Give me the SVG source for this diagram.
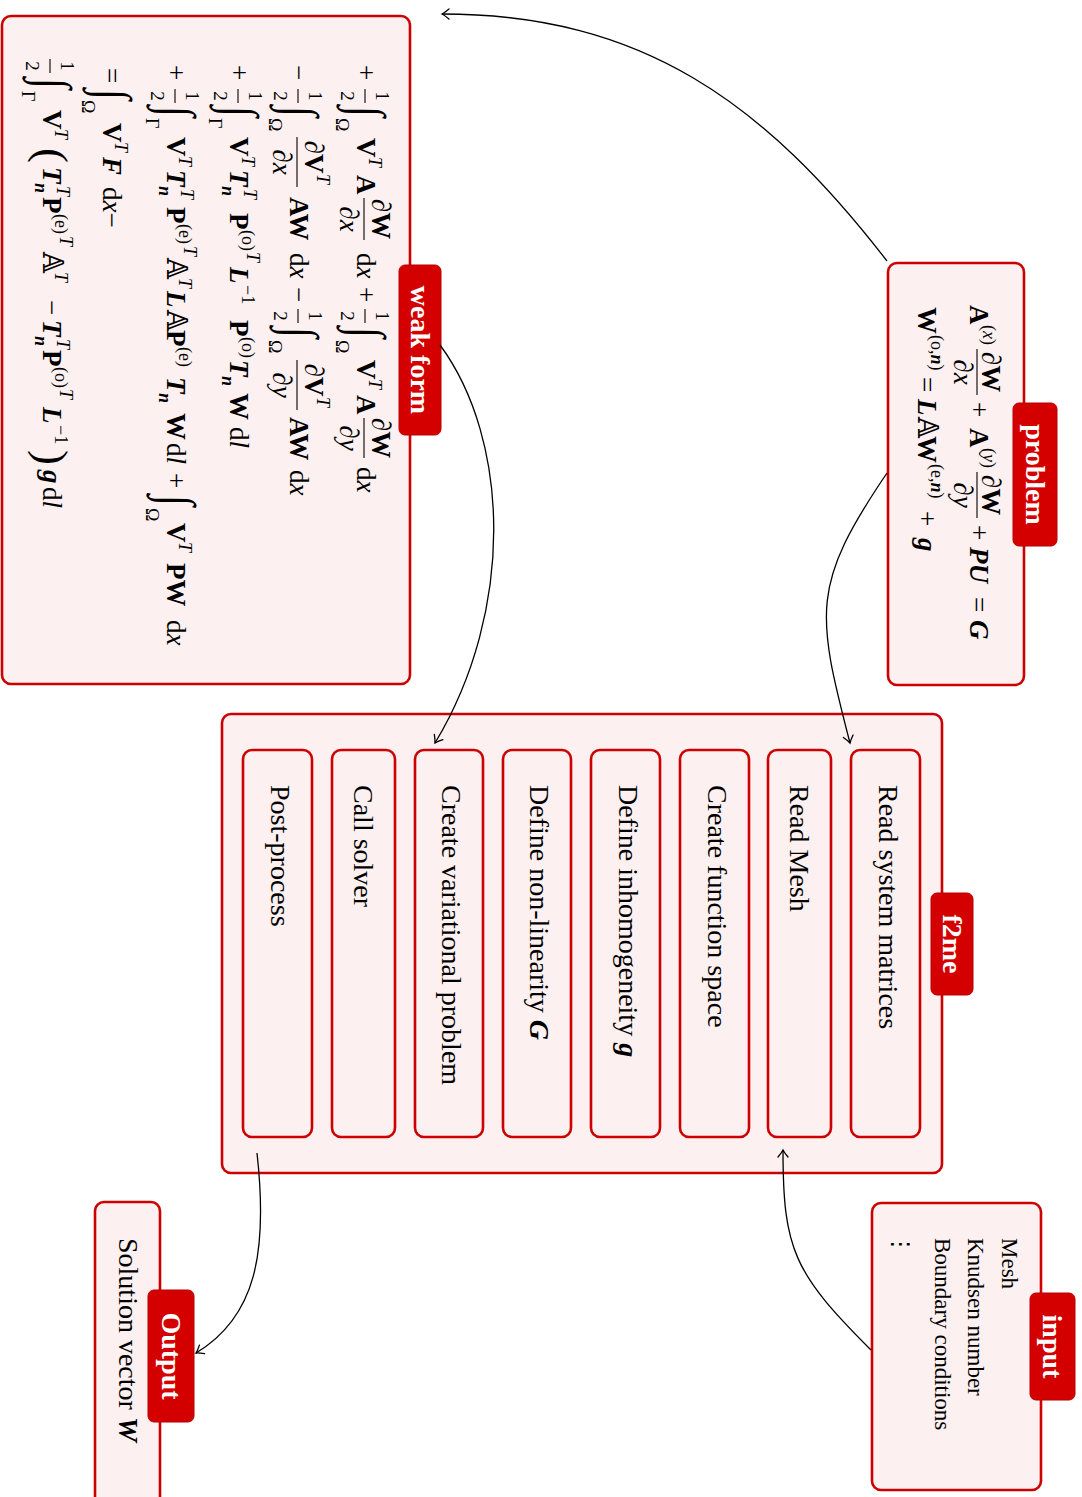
<svg xmlns="http://www.w3.org/2000/svg" width="1082" height="1497" viewBox="0 0 1082 1497">
<defs>
<style>
.box{fill:#fdf0f0;stroke:#cc0000;stroke-width:2.6}
.tagr{fill:#d40000;stroke:#b80000;stroke-width:1}
.tag{font-family:"Liberation Serif",serif;font-size:28px;font-weight:bold;fill:#fff;text-anchor:middle;dominant-baseline:central}
.lbl{font-family:"Liberation Serif",serif;font-size:28px;fill:#000}
.lst{font-family:"Liberation Serif",serif;font-size:23px;fill:#000}
.m{font-family:"Liberation Serif",serif;font-size:27px;fill:#000}
.sm{font-size:18px}
.fr{font-size:19px}
.ig{font-size:44px}
.pa{font-size:45px}
.b{font-weight:bold}
.i{font-style:italic}
.bi{font-weight:bold;font-style:italic}
.ds{font-family:"DejaVu Serif","DejaVu Sans",serif}
.c{text-anchor:middle}
.fb{stroke:#000;stroke-width:1.1}
.conn path{fill:none;stroke:#000;stroke-width:1.3;marker-end:url(#ah)}
</style>
<marker id="ah" viewBox="-9 -7 11 14" refX="0" refY="0" markerWidth="11" markerHeight="14" orient="auto" markerUnits="userSpaceOnUse">
<path d="M-7,-5 Q-2.5,-1.2 0,0 Q-2.5,1.2 -7,5" fill="none" stroke="#000" stroke-width="1.3" stroke-linecap="round"/>
</marker>
</defs>
<!-- whole layout is drawn landscape and turned a quarter turn clockwise -->
<g transform="translate(1082,0) rotate(90)">

<!-- weak form -->
<g id="weakform">
<rect class="box" x="16" y="672" width="668" height="408" rx="9"/>
<!-- line 1 -->
<text class="m" x="65" y="725">+</text>
<text class="m fr c" x="96" y="706">1</text><line class="fb" x1="89" x2="103" y1="717" y2="717"/><text class="m fr c" x="96" y="741">2</text>
<text class="m ig" transform="translate(106,732) scale(0.9,1.16)">∫</text><text class="m sm" x="118" y="746">Ω</text>
<text class="m b" x="138" y="725">V</text><text class="m sm i" x="157" y="713">T</text>
<text class="m b" x="175" y="725">A</text>
<text class="m c" x="219" y="710">∂<tspan class="b">W</tspan></text><line class="fb" x1="198" x2="240" y1="718" y2="718"/><text class="m c" x="219" y="742">∂<tspan class="i">x</tspan></text>
<text class="m" x="253" y="725">d<tspan class="i">x</tspan></text>
<text class="m" x="287" y="725">+</text>
<text class="m fr c" x="316" y="706">1</text><line class="fb" x1="309" x2="323" y1="717" y2="717"/><text class="m fr c" x="316" y="741">2</text>
<text class="m ig" transform="translate(327,732) scale(0.9,1.16)">∫</text><text class="m sm" x="340" y="746">Ω</text>
<text class="m b" x="360" y="725">V</text><text class="m sm i" x="379" y="713">T</text>
<text class="m b" x="395" y="725">A</text>
<text class="m c" x="438" y="710">∂<tspan class="b">W</tspan></text><line class="fb" x1="418" x2="458" y1="718" y2="718"/><text class="m c" x="438" y="742">∂<tspan class="i">y</tspan></text>
<text class="m" x="467" y="725">d<tspan class="i">x</tspan></text>
<!-- line 2 -->
<text class="m" x="65" y="792">−</text>
<text class="m fr c" x="96" y="773">1</text><line class="fb" x1="89" x2="103" y1="784" y2="784"/><text class="m fr c" x="96" y="808">2</text>
<text class="m ig" transform="translate(106,799) scale(0.9,1.16)">∫</text><text class="m sm" x="118" y="813">Ω</text>
<text class="m c" x="157" y="777">∂<tspan class="b">V</tspan></text><text class="m sm i" x="174" y="765">T</text><line class="fb" x1="137" x2="187" y1="785" y2="785"/><text class="m c" x="162" y="809">∂<tspan class="i">x</tspan></text>
<text class="m b" x="197" y="792">AW</text>
<text class="m" x="253" y="792">d<tspan class="i">x</tspan></text>
<text class="m" x="287" y="792">−</text>
<text class="m fr c" x="316" y="773">1</text><line class="fb" x1="309" x2="323" y1="784" y2="784"/><text class="m fr c" x="316" y="808">2</text>
<text class="m ig" transform="translate(327,799) scale(0.9,1.16)">∫</text><text class="m sm" x="340" y="813">Ω</text>
<text class="m c" x="380" y="777">∂<tspan class="b">V</tspan></text><text class="m sm i" x="397" y="765">T</text><line class="fb" x1="360" x2="410" y1="785" y2="785"/><text class="m c" x="385" y="809">∂<tspan class="i">y</tspan></text>
<text class="m b" x="417" y="792">AW</text>
<text class="m" x="470" y="792">d<tspan class="i">x</tspan></text>
<!-- line 3 -->
<text class="m" x="65" y="852">+</text>
<text class="m fr c" x="96" y="833">1</text><line class="fb" x1="89" x2="103" y1="844" y2="844"/><text class="m fr c" x="96" y="868">2</text>
<text class="m ig" transform="translate(106,859) scale(0.9,1.16)">∫</text><text class="m sm" x="118" y="873">Γ</text>
<text class="m b" x="137" y="852">V</text><text class="m sm i" x="156" y="840">T</text>
<text class="m bi" x="170" y="852">T</text><text class="m sm i" x="189" y="838">T</text><text class="m sm bi" x="186" y="860">n</text>
<text class="m b" x="213" y="852">P</text><text class="m sm" x="230" y="840">(o)</text><text class="m sm i" x="252" y="835">T</text>
<text class="m bi" x="267" y="852">L</text><text class="m sm" x="285" y="840">−1</text>
<text class="m b" x="320" y="852">P</text><text class="m sm" x="337" y="840">(o)</text>
<text class="m bi" x="360" y="852">T</text><text class="m sm bi" x="376" y="860">n</text>
<text class="m b" x="393" y="852">W</text>
<text class="m" x="427" y="852">d<tspan class="i">l</tspan></text>
<!-- line 4 -->
<text class="m" x="65" y="915">+</text>
<text class="m fr c" x="96" y="896">1</text><line class="fb" x1="89" x2="103" y1="907" y2="907"/><text class="m fr c" x="96" y="931">2</text>
<text class="m ig" transform="translate(106,922) scale(0.9,1.16)">∫</text><text class="m sm" x="118" y="936">Γ</text>
<text class="m b" x="137" y="915">V</text><text class="m sm i" x="156" y="903">T</text>
<text class="m bi" x="170" y="915">T</text><text class="m sm i" x="189" y="901">T</text><text class="m sm bi" x="186" y="923">n</text>
<text class="m b" x="207" y="915">P</text><text class="m sm" x="224" y="903">(e)</text><text class="m sm i" x="246" y="898">T</text>
<text class="m ds" x="258" y="915">𝔸</text><text class="m sm i" x="278" y="903">T</text>
<text class="m bi" x="291" y="915">L</text><text class="m ds" x="310" y="915">𝔸</text>
<text class="m b" x="330" y="915">P</text><text class="m sm" x="347" y="903">(e)</text>
<text class="m bi" x="377" y="915">T</text><text class="m sm bi" x="393" y="923">n</text>
<text class="m b" x="413" y="915">W</text>
<text class="m" x="443" y="915">d<tspan class="i">l</tspan></text>
<text class="m" x="473" y="915">+</text>
<text class="m ig" transform="translate(495,922) scale(0.9,1.16)">∫</text><text class="m sm" x="508" y="936">Ω</text>
<text class="m b" x="523" y="915">V</text><text class="m sm i" x="542" y="903">T</text>
<text class="m b" x="563" y="915">PW</text>
<text class="m" x="620" y="915">d<tspan class="i">x</tspan></text>
<!-- line 5 -->
<text class="m" x="68" y="979">=</text>
<text class="m ig" transform="translate(89,986) scale(0.9,1.16)">∫</text><text class="m sm" x="100" y="1000">Ω</text>
<text class="m b" x="123" y="979">V</text><text class="m sm i" x="142" y="967">T</text>
<text class="m bi" x="157" y="979">F</text>
<text class="m" x="187" y="979">d<tspan class="i">x</tspan>−</text>
<!-- line 6 -->
<text class="m fr c" x="66" y="1021">1</text><line class="fb" x1="59" x2="73" y1="1032" y2="1032"/><text class="m fr c" x="66" y="1056">2</text>
<text class="m ig" transform="translate(78,1046) scale(0.9,1.16)">∫</text><text class="m sm" x="91" y="1060">Γ</text>
<text class="m b" x="110" y="1039">V</text><text class="m sm i" x="129" y="1027">T</text>
<text class="m pa" x="148" y="1045">(</text>
<text class="m bi" x="167" y="1039">T</text><text class="m sm i" x="186" y="1025">T</text><text class="m sm bi" x="183" y="1047">n</text>
<text class="m b" x="197" y="1039">P</text><text class="m sm" x="214" y="1027">(e)</text><text class="m sm i" x="236" y="1022">T</text>
<text class="m ds" x="252" y="1039">𝔸</text><text class="m sm i" x="272" y="1027">T</text>
<text class="m" x="300" y="1039">−</text>
<text class="m bi" x="320" y="1039">T</text><text class="m sm i" x="339" y="1025">T</text><text class="m sm bi" x="336" y="1047">n</text>
<text class="m b" x="350" y="1039">P</text><text class="m sm" x="367" y="1027">(o)</text><text class="m sm i" x="389" y="1022">T</text>
<text class="m bi" x="407" y="1039">L</text><text class="m sm" x="425" y="1027">−1</text>
<text class="m pa" x="450" y="1045">)</text>
<text class="m bi" x="470" y="1039">g</text>
<text class="m" x="487" y="1039">d<tspan class="i">l</tspan></text>
<rect class="tagr" x="265" y="641" width="170" height="42" rx="6"/>
<text class="tag" x="350" y="662">weak form</text>
</g>

<!-- problem -->
<g id="problem">
<rect class="box" x="263" y="58" width="422" height="136" rx="9"/>
<text class="m b" x="305" y="112">A</text><text class="m sm" x="325" y="99">(<tspan class="i">x</tspan>)</text>
<text class="m c" x="372" y="100">∂<tspan class="b">W</tspan></text><line class="fb" x1="349" x2="395" y1="105" y2="105"/><text class="m c" x="372" y="128">∂<tspan class="i">x</tspan></text>
<text class="m" x="402" y="112">+</text>
<text class="m b" x="428" y="112">A</text><text class="m sm" x="448" y="99">(<tspan class="i">y</tspan>)</text>
<text class="m c" x="495" y="100">∂<tspan class="b">W</tspan></text><line class="fb" x1="472" x2="518" y1="105" y2="105"/><text class="m c" x="495" y="128">∂<tspan class="i">y</tspan></text>
<text class="m" x="525" y="112">+</text>
<text class="m bi" x="547" y="112">PU</text>
<text class="m" x="597" y="112">=</text>
<text class="m bi" x="620" y="112">G</text>
<text class="m b" x="307" y="164">W</text><text class="m sm" x="335" y="151">(o,<tspan class="bi">n</tspan>)</text>
<text class="m" x="377" y="164">=</text>
<text class="m bi" x="399" y="164">L</text><text class="m ds" x="417" y="164">𝔸</text><text class="m b" x="436" y="164">W</text><text class="m sm" x="464" y="151">(e,<tspan class="bi">n</tspan>)</text>
<text class="m" x="511" y="164">+</text>
<text class="m bi" x="538" y="164">g</text>
<rect class="tagr" x="403" y="25" width="143" height="44" rx="6"/>
<text class="tag" x="474.5" y="47">problem</text>
</g>

<!-- f2me -->
<g id="f2me">
<rect class="box" x="714" y="140" width="459" height="720" rx="9"/>
<rect class="tagr" x="893" y="109" width="102" height="42" rx="6"/>
<text class="tag" x="944" y="130">f2me</text>
</g>
<g id="step1"><rect class="box" x="750" y="162" width="387" height="69" rx="9"/><text class="lbl" x="785" y="203.5">Read system matrices</text></g>
<g id="step2"><rect class="box" x="750" y="251" width="387" height="63" rx="9"/><text class="lbl" x="785" y="292.5">Read Mesh</text></g>
<g id="step3"><rect class="box" x="750" y="333" width="387" height="69" rx="9"/><text class="lbl" x="785" y="374.5">Create function space</text></g>
<g id="step4"><rect class="box" x="750" y="422" width="387" height="69" rx="9"/><text class="lbl" x="785" y="463.5">Define inhomogeneity <tspan class="bi">g</tspan></text></g>
<g id="step5"><rect class="box" x="750" y="511" width="387" height="68" rx="9"/><text class="lbl" x="785" y="552.5">Define non-linearity <tspan class="bi">G</tspan></text></g>
<g id="step6"><rect class="box" x="750" y="599" width="387" height="68" rx="9"/><text class="lbl" x="785" y="640.5">Create variational problem</text></g>
<g id="step7"><rect class="box" x="750" y="687" width="387" height="63" rx="9"/><text class="lbl" x="785" y="728.5">Call solver</text></g>
<g id="step8"><rect class="box" x="750" y="770" width="387" height="69" rx="9"/><text class="lbl" x="785" y="811.5">Post-process</text></g>

<!-- input -->
<g id="input">
<rect class="box" x="1203" y="41" width="287" height="169" rx="9"/>
<text class="lst" x="1238" y="80">Mesh</text>
<text class="lst" x="1238" y="114">Knudsen number</text>
<text class="lst" x="1238" y="147">Boundary conditions</text>
<text class="lst ds" x="1233" y="189">⋮</text>
<rect class="tagr" x="1293" y="7" width="107" height="45" rx="6"/>
<text class="tag" x="1346.5" y="29.5">input</text>
</g>

<!-- output -->
<g id="output">
<rect class="box" x="1202" y="922" width="320" height="65" rx="9"/>
<text class="lbl" x="1238" y="963.5">Solution vector <tspan class="bi">W</tspan></text>
<rect class="tagr" x="1290" y="888" width="132" height="46" rx="6"/>
<text class="tag" x="1356" y="911">Output</text>
</g>

<g id="connectors" class="conn">
<path d="M261,195 C103,317 14,440 14,640"/>
<path d="M473,195 C585,271 612,266 743,232"/>
<path d="M345,642 C440,572 610,567 743,647"/>
<path d="M1350,211 C1273,288 1250,299 1150,299"/>
<path d="M1153,825 C1252,814 1317,826 1353,886"/>
</g>
</g>
</svg>
